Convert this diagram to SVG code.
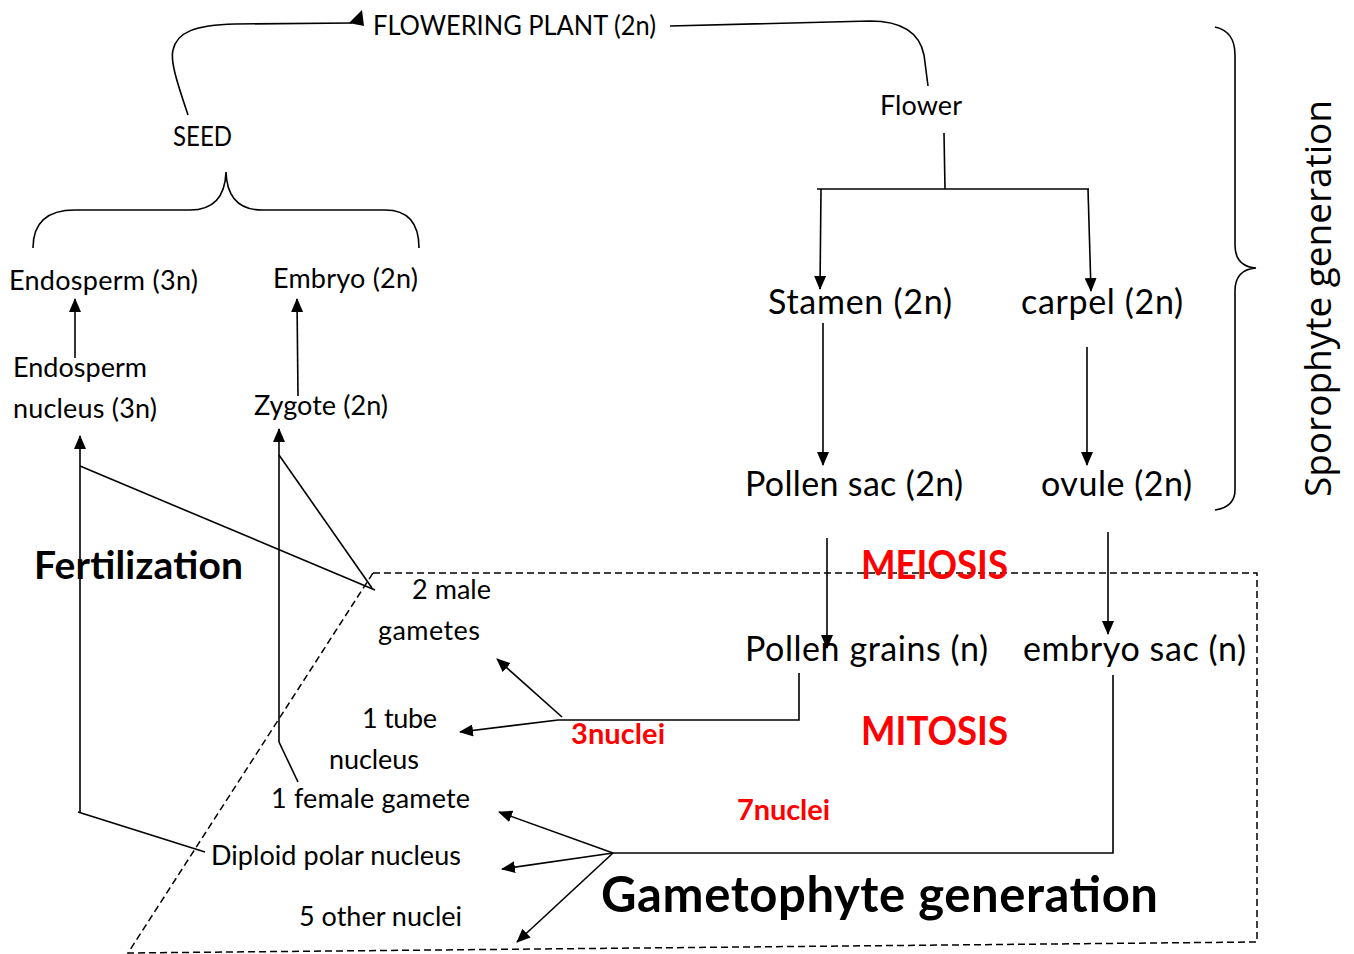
<svg xmlns="http://www.w3.org/2000/svg" width="1354" height="954" viewBox="0 0 1354 954">
<style>
.t{font-family:Lato,"Open Sans","Liberation Sans",sans-serif;fill:#000}
.s{font-size:27px}
.b{font-size:34px}
.bold{font-weight:bold}
.red{fill:#FF0000}
.ln{fill:none;stroke:#000;stroke-width:1.6}
.arr{fill:none;stroke:#000;stroke-width:1.6;marker-end:url(#ah)}
.dash{fill:none;stroke:#000;stroke-width:1.5;stroke-dasharray:7 4}
</style>
<defs>
<marker id="ah" markerUnits="userSpaceOnUse" markerWidth="14" markerHeight="12" refX="13" refY="6" orient="auto">
<path d="M0,0 L14,6 L0,12 z" fill="#000"/>
</marker>
</defs>
<rect width="1354" height="954" fill="#fff"/>

<g id="gametophyte-box">
<polygon class="dash" points="373,573 1257,573 1257,942 128,953"/>
</g>

<g id="connectors">
<path class="ln" d="M188,115 C178,85 170,62 173,50 C177,32 195,25 235,24 L352,23"/>
<polygon points="349,23 362,10 364,26" fill="#000"/>
<path class="ln" d="M670,26 L870,21 C905,21 920,35 924,55 L928,86"/>
<path class="ln" d="M944,133 L945,189"/>
<path class="ln" d="M817,189 L1089,189"/>
<path class="arr" d="M821,189 L820,289"/>
<path class="arr" d="M1088,189 L1091,291"/>
<path class="arr" d="M823,323 L823,465"/>
<path class="arr" d="M1087,347 L1087,465"/>
<path class="arr" d="M827,538 L827,648"/>
<path class="arr" d="M1108,532 L1108,634"/>
<path class="ln" d="M799,673 L799,720 L558,720"/>
<path class="arr" d="M562,717 L497,659"/>
<path class="arr" d="M558,720 L460,732"/>
<path class="ln" d="M1113,675 L1113,853 L613,853"/>
<path class="arr" d="M613,853 L499,812"/>
<path class="arr" d="M613,853 L502,869"/>
<path class="arr" d="M613,853 L517,942"/>
<path class="arr" d="M75,358 L75,299"/>
<path class="arr" d="M298,396 L297,299"/>
<path class="arr" d="M80,812 L80,436"/>
<path class="ln" d="M80,466 L375,590"/>
<path class="arr" d="M279,742 L279,429"/>
<path class="ln" d="M279,455 L372,588"/>
<path class="ln" d="M279,742 L298,782"/>
<path class="ln" d="M78,812 L205,852"/>
</g>

<g id="seed-brace">
<path class="ln" d="M33,248 C33,225 45,210 75,210 L190,210 C210,210 225,200 226,172 C227,200 242,210 262,210 L385,210 C410,210 419,225 419,248"/>
</g>
<g id="sporophyte-brace">
<path class="ln" d="M1215,27 C1228,30 1235,38 1235,55 L1235,245 C1235,260 1242,267 1256,268 C1242,269 1235,276 1235,291 L1235,490 C1235,502 1228,508 1215,510"/>
</g>

<g id="flowering-plant"><text class="t s" x="373" y="35" textLength="283" lengthAdjust="spacingAndGlyphs">FLOWERING PLANT (2n)</text></g>
<g id="flower"><text class="t s" x="880" y="115" textLength="82">Flower</text></g>
<g id="seed"><text class="t s" x="173" y="146" textLength="59" lengthAdjust="spacingAndGlyphs">SEED</text></g>
<g id="endosperm"><text class="t s" x="9" y="290" textLength="189">Endosperm (3n)</text></g>
<g id="embryo"><text class="t s" x="273" y="288" textLength="145">Embryo (2n)</text></g>
<g id="endosperm-nucleus"><text class="t s" x="13" y="377" textLength="134">Endosperm</text><text class="t s" x="13" y="418" textLength="144">nucleus (3n)</text></g>
<g id="zygote"><text class="t s" x="254" y="415" textLength="134">Zygote (2n)</text></g>
<g id="stamen"><text class="t b" x="768" y="314" textLength="184">Stamen (2n)</text></g>
<g id="carpel"><text class="t b" x="1021" y="314" textLength="162">carpel (2n)</text></g>
<g id="pollen-sac"><text class="t b" x="745" y="496" textLength="218">Pollen sac (2n)</text></g>
<g id="ovule"><text class="t b" x="1041" y="496" textLength="151">ovule (2n)</text></g>
<g id="pollen-grains"><text class="t b" x="745" y="661" textLength="243">Pollen grains (n)</text></g>
<g id="embryo-sac"><text class="t b" x="1023" y="661" textLength="223">embryo sac (n)</text></g>
<g id="fertilization"><text class="t bold" x="34" y="579" font-size="39" textLength="209">Fertilization</text></g>
<g id="meiosis"><text class="t bold red" x="861" y="579" font-size="40" textLength="147" lengthAdjust="spacingAndGlyphs">MEIOSIS</text></g>
<g id="mitosis"><text class="t bold red" x="861" y="745" font-size="40" textLength="147" lengthAdjust="spacingAndGlyphs">MITOSIS</text></g>
<g id="male-gametes"><text class="t s" x="412" y="599" textLength="79">2 male</text><text class="t s" x="378" y="640" textLength="102">gametes</text></g>
<g id="tube-nucleus"><text class="t s" x="362" y="728" textLength="75">1 tube</text><text class="t s" x="329" y="769" textLength="90">nucleus</text></g>
<g id="three-nuclei"><text class="t bold red" x="571" y="744" font-size="29" textLength="94">3nuclei</text></g>
<g id="female-gamete"><text class="t s" x="271" y="808" textLength="199">1 female gamete</text></g>
<g id="seven-nuclei"><text class="t bold red" x="737" y="820" font-size="29" textLength="93">7nuclei</text></g>
<g id="polar-nucleus"><text class="t s" x="211" y="865" textLength="250">Diploid polar nucleus</text></g>
<g id="other-nuclei"><text class="t s" x="299" y="926" textLength="163">5 other nuclei</text></g>
<g id="gametophyte-label"><text class="t bold" x="601" y="912" font-size="49" textLength="557">Gametophyte generation</text></g>
<g id="sporophyte-label"><text transform="translate(1331,497) rotate(-90)" x="0" y="0" font-family="'Open Sans','Noto Sans',sans-serif" font-size="37" textLength="397">Sporophyte generation</text></g>
</svg>
